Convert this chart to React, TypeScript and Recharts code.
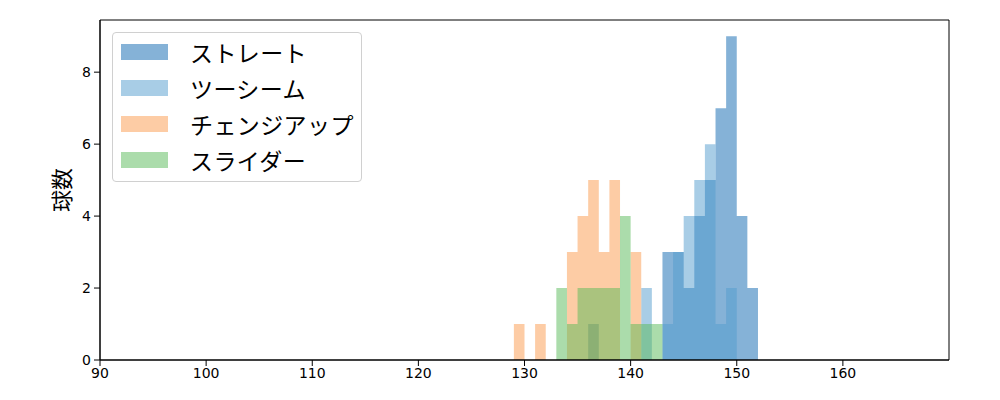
import { ComposedChart, Area, XAxis, YAxis, ReferenceArea } from 'recharts'

// bin start (km/h), each bin is 1 km/h wide
const bins = [129, 130, 131, 132, 133, 134, 135, 136, 137, 138, 139, 140, 141, 142, 143, 144, 145, 146, 147, 148, 149, 150, 151, 152]
const straight = [0, 0, 0, 0, 0, 0, 0, 1, 0, 0, 0, 0, 0, 0, 3, 3, 2, 4, 5, 7, 9, 4, 2, 0]
const twoSeam = [0, 0, 0, 0, 0, 0, 0, 0, 0, 0, 0, 0, 2, 0, 1, 3, 4, 5, 6, 1, 2, 0, 0, 0]
const changeup = [1, 0, 1, 0, 0, 3, 4, 5, 3, 5, 0, 3, 0, 0, 0, 0, 0, 0, 0, 0, 0, 0, 0, 0]
const slider = [0, 0, 0, 0, 2, 1, 2, 2, 2, 2, 4, 1, 1, 1, 0, 0, 0, 0, 0, 0, 0, 0, 0, 0]

const xTicks = [90, 100, 110, 120, 130, 140, 150, 160]
const yTicks = [0, 2, 4, 6, 8]

const SERIES = [
  { key: 'straight', name: 'ストレート', fill: '#0b65af', swatch: '#85b2d7' },
  { key: 'twoSeam', name: 'ツーシーム', fill: '#519bcd', swatch: '#a8cde6' },
  { key: 'changeup', name: 'チェンジアップ', fill: '#fb994b', swatch: '#fdcca5' },
  { key: 'slider', name: 'スライダー', fill: '#57b957', swatch: '#abdcab' },
]

const data = bins.map((b, i) => ({
  bin: b,
  straight: straight[i],
  twoSeam: twoSeam[i],
  changeup: changeup[i],
  slider: slider[i],
}))

const JP = '"Noto Sans CJK JP", "DejaVu Sans", sans-serif'
const tickStyle = { fontSize: 14, fill: '#000', fontFamily: '"DejaVu Sans", sans-serif' }

export default function App() {
  return (
    <div style={{ position: 'absolute', left: 0, top: 0, width: 1000, height: 400, background: '#fff' }}>
      <ComposedChart width={1000} height={400} data={data} margin={{ top: 20, right: 51, bottom: 10, left: 40 }}>
        <XAxis
          dataKey="bin"
          type="number"
          domain={[90, 170]}
          ticks={xTicks}
          allowDataOverflow
          height={30}
          tick={tickStyle}
          tickSize={6}
          tickMargin={2}
          tickLine={{ stroke: '#000' }}
          axisLine={{ stroke: '#000' }}
        />
        <YAxis
          type="number"
          domain={[0, 9.45]}
          ticks={yTicks}
          allowDataOverflow
          width={60}
          tick={tickStyle}
          tickSize={6}
          tickMargin={3}
          tickLine={{ stroke: '#000' }}
          axisLine={{ stroke: '#000' }}
          label={{
            value: '球数',
            angle: -90,
            position: 'insideLeft',
            offset: 22,
            style: { fontSize: 22, fill: '#000', fontFamily: JP, textAnchor: 'middle' },
          }}
        />
        {SERIES.map((s) => (
          <Area
            key={s.key}
            dataKey={s.key}
            name={s.name}
            type="stepAfter"
            stroke="none"
            fill={s.fill}
            fillOpacity={0.5}
            dot={false}
            activeDot={false}
            isAnimationActive={false}
          />
        ))}
        <ReferenceArea x1={90} x2={170} y1={0} y2={9.45} fill="none" stroke="#000" strokeWidth={1} ifOverflow="visible" />
      </ComposedChart>
      <div
        style={{
          position: 'absolute',
          left: 112,
          top: 32,
          width: 248,
          height: 148,
          border: '1px solid #d0d0d0',
          borderRadius: 4,
          background: 'rgba(255,255,255,0.8)',
          fontFamily: JP,
        }}
      >
        {SERIES.map((s, i) => (
          <div key={s.key} style={{ position: 'absolute', left: 8, top: 10 + i * 36, height: 18, display: 'flex', alignItems: 'center' }}>
            <span style={{ display: 'inline-block', width: 47, height: 16, background: s.swatch }} />
            <span style={{ marginLeft: 22, fontSize: 23, letterSpacing: 0.4, color: '#000', lineHeight: '18px', whiteSpace: 'nowrap' }}>{s.name}</span>
          </div>
        ))}
      </div>
    </div>
  )
}
